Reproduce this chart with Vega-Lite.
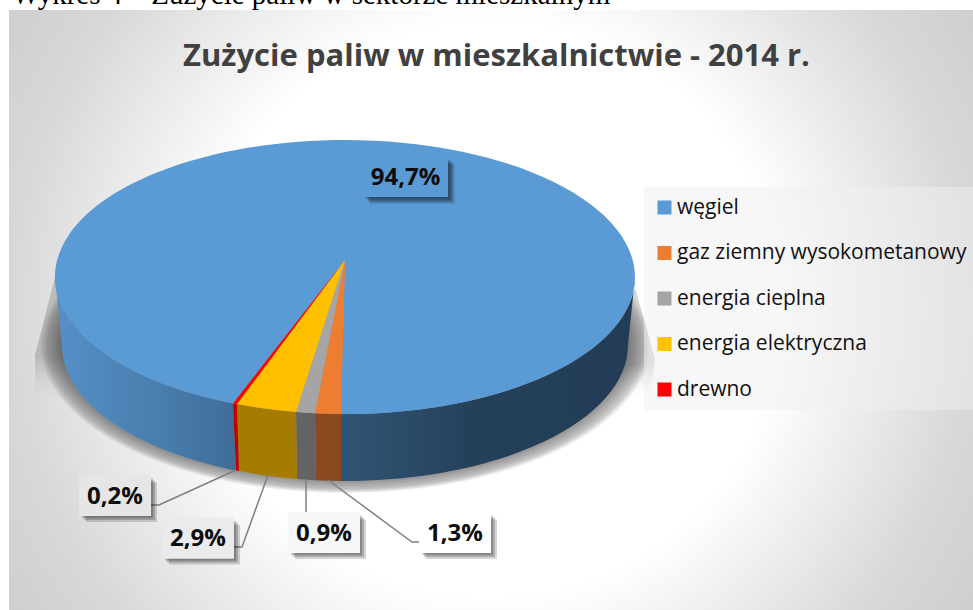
{"$schema":"https://vega.github.io/schema/vega-lite/v6.json","width":973,"height":610,"autosize":"none","padding":0,"background":"white","config":{"view":{"stroke":null}},
"title":{"text":"Zużycie paliw w mieszkalnictwie - 2014 r.","font":"Open Sans","fontWeight":"bold","fontSize":31,"color":"#404040","anchor":"middle","frame":"group","baseline":"alphabetic","offset":0,"dx":10,"dy":116,"zindex":1},
"data":{"values":[{"fuel":"węgiel","share":94.7,"label":"94,7%"},{"fuel":"gaz ziemny wysokometanowy","share":1.3,"label":"1,3%"},{"fuel":"energia cieplna","share":0.9,"label":"0,9%"},{"fuel":"energia elektryczna","share":2.9,"label":"2,9%"},{"fuel":"drewno","share":0.2,"label":"0,2%"}]},
"layer":[
{"data":{"values":[{"part":"podpis"}]},"mark":{"type":"text","text":"Wykres 4 – Zużycie paliw w sektorze mieszkalnym","font":"Liberation Serif","fontSize":29,"align":"left","baseline":"alphabetic","color":"#000"},"encoding":{"x":{"value":12},"y":{"value":4}}},
{"data":{"values":[{"part":"tło"}]},"mark":{"type":"rect","fill":{"gradient":"radial","x1":0.5,"y1":0.5,"r1":0,"x2":0.5,"y2":0.5,"r2":0.71,"stops":[{"offset":0,"color":"#ffffff"},{"offset":0.42,"color":"#ffffff"},{"offset":0.7,"color":"#d8d8d8"},{"offset":1,"color":"#c2c2c2"}]}},"encoding":{"x":{"value":9},"x2":{"value":973},"y":{"value":10},"y2":{"value":610}}},
{"data":{"values":[{"part":"cień"}]},"encoding":{"x":{"value":345},"y":{"value":277},"size":{"value":4}},"layer":[
{"mark":{"type":"point","filled":true,"opacity":1,"strokeWidth":0,"shape":"M-290,0L-310,78L-310,125L-200,160L-250,40Z","fill":{"gradient":"linear","x1":0,"y1":0,"x2":0,"y2":1,"stops":[{"offset":0,"color":"#bcbcbc"},{"offset":0.5,"color":"#b8b8b8"},{"offset":0.78,"color":"rgba(214,214,214,0)"},{"offset":1,"color":"rgba(214,214,214,0)"}]}}},
{"mark":{"type":"point","filled":true,"opacity":1,"strokeWidth":0,"shape":"M290,10L310,82L305,122L260,122Z","fill":{"gradient":"linear","x1":0,"y1":0,"x2":0,"y2":1,"stops":[{"offset":0,"color":"#d8d8d8"},{"offset":0.7,"color":"#d0d0d0"},{"offset":1,"color":"rgba(255,255,255,0)"}]}}}
]},
{"data":{"values":[{"ring":"1"},{"ring":"2"},{"ring":"3"},{"ring":"4"},{"ring":"5"},{"ring":"6"},{"ring":"7"},{"ring":"8"}]},"mark":{"type":"point","filled":true,"opacity":0.06,"fill":"#000","strokeWidth":0},"encoding":{"x":{"value":345},"y":{"value":277},"size":{"value":4},"shape":{"field":"ring","type":"nominal","legend":null,"scale":{"domain":["1","2","3","4","5","6","7","8"],"range":["M-304,68A304,148 0 1 0 304,68A304,148 0 1 0 -304,68Z","M-302,68A302,147 0 1 0 302,68A302,147 0 1 0 -302,68Z","M-300,68A300,146 0 1 0 300,68A300,146 0 1 0 -300,68Z","M-298,68A298,145 0 1 0 298,68A298,145 0 1 0 -298,68Z","M-295,68A295,144 0 1 0 295,68A295,144 0 1 0 -295,68Z","M-292,68A292,142 0 1 0 292,68A292,142 0 1 0 -292,68Z","M-289,68A289,140 0 1 0 289,68A289,140 0 1 0 -289,68Z","M-286,68A286,138 0 1 0 286,68A286,138 0 1 0 -286,68Z"]}}}},
{"transform":[{"filter":"datum.fuel==='węgiel'"}],"encoding":{"x":{"value":345},"y":{"value":277},"size":{"value":4}},"layer":[
{"mark":{"type":"point","filled":true,"opacity":1,"strokeWidth":0,"shape":"M-4,137A290,137 0 0 0 290,0L283,68A283,136 0 0 1 -4,204Z","fill":{"gradient":"linear","x1":0,"y1":0,"x2":1,"y2":0,"stops":[{"offset":0,"color":"#315675"},{"offset":0.45,"color":"#254059"},{"offset":1,"color":"#223d55"}]}}},
{"mark":{"type":"point","filled":true,"opacity":1,"strokeWidth":0,"shape":"M-290,0A290,137 0 0 0 -112,126.4L-109,193.5A283,136 0 0 1 -283,68Z","fill":{"gradient":"linear","x1":0,"y1":0,"x2":1,"y2":0,"stops":[{"offset":0,"color":"#5690c8"},{"offset":0.5,"color":"#4a80b1"},{"offset":1,"color":"#3f6d98"}]}}}
]},
{"transform":[{"filter":"datum.fuel!=='węgiel'"}],"mark":{"type":"point","filled":true,"opacity":1,"strokeWidth":0},"encoding":{"x":{"value":345},"y":{"value":277},"size":{"value":4},"fill":{"condition":[{"test":"datum.fuel==='drewno'","value":"#c00000"},{"test":"datum.fuel==='energia elektryczna'","value":"#a67c00"},{"test":"datum.fuel==='energia cieplna'","value":"#636363"}],"value":"#8a491f"},"shape":{"field":"fuel","type":"nominal","legend":null,"scale":{"domain":["gaz ziemny wysokometanowy","energia cieplna","energia elektryczna","drewno"],"range":["M-30,136.3A290,137 0 0 0 -4,137L-4,204A283,136 0 0 1 -29,203.3Z","M-49,135A290,137 0 0 0 -30,136.3L-29,203.3A283,136 0 0 1 -48,202Z","M-108,127.1A290,137 0 0 0 -49,135L-48,202A283,136 0 0 1 -106,194Z","M-112,126.4A290,137 0 0 0 -108,127.1L-106,194A283,136 0 0 1 -109,193.5Z"]}}}},
{"mark":{"type":"point","filled":true,"opacity":1,"strokeWidth":0},"encoding":{"x":{"value":345},"y":{"value":277},"size":{"value":4},
"fill":{"field":"fuel","type":"nominal","scale":{"domain":["węgiel","gaz ziemny wysokometanowy","energia cieplna","energia elektryczna","drewno"],"range":["#5b9bd5","#ed7d31","#a5a5a5","#ffc000","#ff0000"]},"legend":{"title":null,"orient":"none","legendX":644,"legendY":187,"padding":10,"fillColor":"rgba(240,240,240,0.5)","labelFont":"Open Sans","labelFontSize":21,"labelColor":"#111111","labelLimit":400,"labelOffset":2,"symbolType":"square","symbolSize":196,"symbolStrokeWidth":0,"symbolOpacity":1,"rowPadding":23.5,"zindex":1}},
"shape":{"field":"fuel","type":"nominal","legend":null,"scale":{"domain":["węgiel","gaz ziemny wysokometanowy","energia cieplna","energia elektryczna","drewno"],"range":["M0,-17L-4,137A290,137 0 1 0 -112,126.4Z","M0,-17L-30,136.3A290,137 0 0 0 -4,137Z","M0,-17L-49,135A290,137 0 0 0 -30,136.3Z","M0,-17L-108,127.1A290,137 0 0 0 -49,135Z","M0,-17L-112,126.4A290,137 0 0 0 -108,127.1Z"]}}}},
{"transform":[{"filter":"datum.fuel==='węgiel'"}],"encoding":{"x":{"value":405.5},"y":{"value":177},"size":{"value":4}},"layer":[
{"mark":{"type":"point","filled":true,"opacity":0.22,"fill":"#000","strokeWidth":0,"shape":"M42.5,-17H45V22.5H-39.5V20H42.5Z"}},
{"mark":{"type":"point","filled":true,"opacity":0.22,"fill":"#000","strokeWidth":0,"shape":"M42.5,-15H47V24.5H-37.5V20H42.5Z"}},
{"mark":{"type":"point","filled":true,"opacity":0.18,"fill":"#000","strokeWidth":0,"shape":"M42.5,-13H49V26.5H-35.5V20H42.5Z"}},
{"mark":{"type":"point","filled":true,"opacity":1,"fill":"#5b9bd5","strokeWidth":0,"shape":"M-42.5,-20H42.5V20H-42.5Z"}},
{"mark":{"type":"text","font":"Open Sans","fontWeight":"bold","color":"#0d0d0d","baseline":"middle","dy":1},"encoding":{"size":{"value":24},"text":{"field":"label","type":"nominal"}}}
]},
{"transform":[{"filter":"datum.fuel==='drewno'"}],"encoding":{"x":{"value":115},"y":{"value":495.5},"size":{"value":4}},"layer":[
{"mark":{"type":"point","filled":false,"opacity":1,"stroke":"#7f7f7f","strokeWidth":1.5,"shape":"M121,-25.5L44,9.5L32,9.5"}},
{"mark":{"type":"point","filled":true,"opacity":0.2,"fill":"#000","strokeWidth":0,"shape":"M36,-17H38V22.5H-33V20.5H36Z"}},
{"mark":{"type":"point","filled":true,"opacity":0.2,"fill":"#000","strokeWidth":0,"shape":"M36,-15H40V24.5H-31V20.5H36Z"}},
{"mark":{"type":"point","filled":true,"opacity":0.16,"fill":"#000","strokeWidth":0,"shape":"M36,-13H42V26.5H-29V20.5H36Z"}},
{"mark":{"type":"point","filled":true,"opacity":1,"fill":"#e6e6e6","strokeWidth":0,"shape":"M-36,-20.5H36V20.5H-36Z"}},
{"mark":{"type":"text","font":"Open Sans","fontWeight":"bold","color":"#0d0d0d","baseline":"middle","dy":1},"encoding":{"size":{"value":24},"text":{"field":"label","type":"nominal"}}}
]},
{"transform":[{"filter":"datum.fuel==='energia elektryczna'"}],"encoding":{"x":{"value":198},"y":{"value":538},"size":{"value":4}},"layer":[
{"mark":{"type":"point","filled":false,"opacity":1,"stroke":"#7f7f7f","strokeWidth":1.5,"shape":"M70,-63L44,9L32,9"}},
{"mark":{"type":"point","filled":true,"opacity":0.2,"fill":"#000","strokeWidth":0,"shape":"M36,-17H38V22.5H-33V20.5H36Z"}},
{"mark":{"type":"point","filled":true,"opacity":0.2,"fill":"#000","strokeWidth":0,"shape":"M36,-15H40V24.5H-31V20.5H36Z"}},
{"mark":{"type":"point","filled":true,"opacity":0.16,"fill":"#000","strokeWidth":0,"shape":"M36,-13H42V26.5H-29V20.5H36Z"}},
{"mark":{"type":"point","filled":true,"opacity":1,"fill":"#ebebeb","strokeWidth":0,"shape":"M-36,-20.5H36V20.5H-36Z"}},
{"mark":{"type":"text","font":"Open Sans","fontWeight":"bold","color":"#0d0d0d","baseline":"middle","dy":1},"encoding":{"size":{"value":24},"text":{"field":"label","type":"nominal"}}}
]},
{"transform":[{"filter":"datum.fuel==='energia cieplna'"}],"encoding":{"x":{"value":324},"y":{"value":532.5},"size":{"value":4}},"layer":[
{"mark":{"type":"point","filled":false,"opacity":1,"stroke":"#7f7f7f","strokeWidth":1.5,"shape":"M-18,-53.5L-18,-17"}},
{"mark":{"type":"point","filled":true,"opacity":0.2,"fill":"#000","strokeWidth":0,"shape":"M36,-17H38V22.5H-33V20.5H36Z"}},
{"mark":{"type":"point","filled":true,"opacity":0.2,"fill":"#000","strokeWidth":0,"shape":"M36,-15H40V24.5H-31V20.5H36Z"}},
{"mark":{"type":"point","filled":true,"opacity":0.16,"fill":"#000","strokeWidth":0,"shape":"M36,-13H42V26.5H-29V20.5H36Z"}},
{"mark":{"type":"point","filled":true,"opacity":1,"fill":"#f8f8f8","strokeWidth":0,"shape":"M-36,-20.5H36V20.5H-36Z"}},
{"mark":{"type":"text","font":"Open Sans","fontWeight":"bold","color":"#0d0d0d","baseline":"middle","dy":1},"encoding":{"size":{"value":24},"text":{"field":"label","type":"nominal"}}}
]},
{"transform":[{"filter":"datum.fuel==='gaz ziemny wysokometanowy'"}],"encoding":{"x":{"value":455},"y":{"value":532.5},"size":{"value":4}},"layer":[
{"mark":{"type":"point","filled":false,"opacity":1,"stroke":"#7f7f7f","strokeWidth":1.5,"shape":"M-127,-52.5L-43,9.5L-32,9.5"}},
{"mark":{"type":"point","filled":true,"opacity":0.2,"fill":"#000","strokeWidth":0,"shape":"M36,-17H38V22.5H-33V20.5H36Z"}},
{"mark":{"type":"point","filled":true,"opacity":0.2,"fill":"#000","strokeWidth":0,"shape":"M36,-15H40V24.5H-31V20.5H36Z"}},
{"mark":{"type":"point","filled":true,"opacity":0.16,"fill":"#000","strokeWidth":0,"shape":"M36,-13H42V26.5H-29V20.5H36Z"}},
{"mark":{"type":"point","filled":true,"opacity":1,"fill":"#ffffff","strokeWidth":0,"shape":"M-36,-20.5H36V20.5H-36Z"}},
{"mark":{"type":"text","font":"Open Sans","fontWeight":"bold","color":"#0d0d0d","baseline":"middle","dy":1},"encoding":{"size":{"value":24},"text":{"field":"label","type":"nominal"}}}
]}
],
"resolve":{"scale":{"shape":"independent"}}}
